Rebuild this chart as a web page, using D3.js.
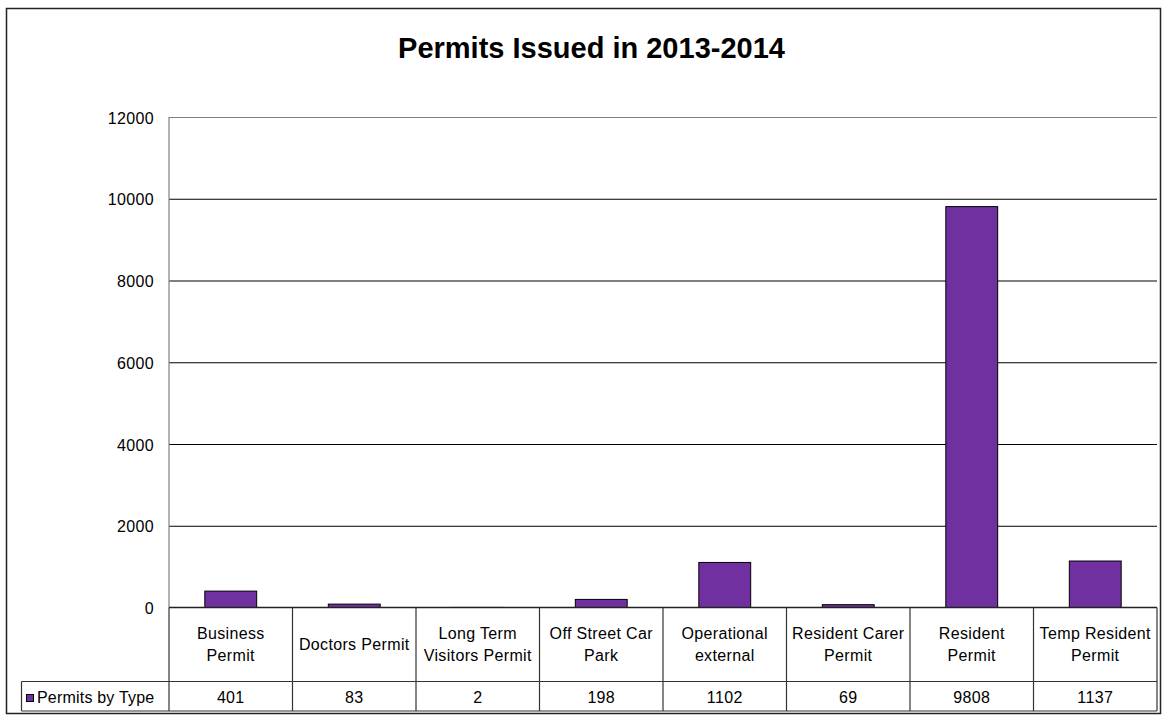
<!DOCTYPE html>
<html>
<head>
<meta charset="utf-8">
<script src="https://cdn.jsdelivr.net/npm/d3@7"></script>
<style>
  html, body { margin: 0; padding: 0; background: #fff; }
  svg text { font-family: "Liberation Sans", Arial, sans-serif; fill: #000; }
</style>
</head>
<body>
<svg id="chart" width="1165" height="720"></svg>
<script>
// ---- data ----
const chartTitle = "Permits Issued in 2013-2014";
const seriesName = "Permits by Type";
const categories = [
  "Business Permit",
  "Doctors Permit",
  "Long Term Visitors Permit",
  "Off Street Car Park",
  "Operational external",
  "Resident Carer Permit",
  "Resident Permit",
  "Temp Resident Permit"
];
// how each category name is broken across lines in the table header
const categoryLines = [
  ["Business", "Permit"],
  ["Doctors Permit"],
  ["Long Term", "Visitors Permit"],
  ["Off Street Car", "Park"],
  ["Operational", "external"],
  ["Resident Carer", "Permit"],
  ["Resident", "Permit"],
  ["Temp Resident", "Permit"]
];
const values = [401, 83, 2, 198, 1102, 69, 9808, 1137];
const yTicks = [0, 2000, 4000, 6000, 8000, 10000, 12000];

// ---- layout ----
const plot = { left: 169, right: 1157, top: 117, bottom: 607.5 };
const tableRow = 681.5, tableBottom = 711, legendLeft = 21.5;
const barColor = "#7030A0";

const svg = d3.select("#chart");

// outer frame
svg.append("rect")
  .attr("x", 6.5).attr("y", 8.5)
  .attr("width", 1154).attr("height", 705)
  .attr("fill", "#fff").attr("stroke", "#222").attr("stroke-width", 1.5);

// title
svg.append("text")
  .attr("x", 591.5).attr("y", 57.7)
  .attr("text-anchor", "middle")
  .style("font-size", "29px").style("font-weight", "bold")
  .text(chartTitle);

// scales
const x = d3.scaleBand().domain(categories).range([plot.left, plot.right]).padding(0);
const y = d3.scaleLinear().domain([0, 12000]).range([plot.bottom, plot.top]);
const bw = x.bandwidth();

// gridlines
const grid = svg.append("g")
  .attr("transform", `translate(${plot.left},0)`)
  .call(d3.axisLeft(y).tickValues(yTicks.filter(d => d > 0))
    .tickSize(-(plot.right - plot.left)).tickFormat(""));
grid.select(".domain").remove();
grid.selectAll(".tick line")
  .attr("stroke", d => d === 12000 ? "#808080" : "#000")
  .attr("stroke-width", 1);

// y tick labels
const yAxis = svg.append("g")
  .attr("transform", `translate(${plot.left},0)`)
  .call(d3.axisLeft(y).tickValues(yTicks).tickSize(0).tickPadding(15).tickFormat(d3.format("d")));
yAxis.select(".domain").remove();
yAxis.selectAll("text")
  .attr("dy", null).attr("y", 6)
  .style("font-size", "16px").style("letter-spacing", "0.35px")
  .style("font-family", "'Liberation Sans', Arial, sans-serif");

// y axis line
svg.append("line")
  .attr("x1", plot.left).attr("x2", plot.left)
  .attr("y1", plot.top).attr("y2", plot.bottom)
  .attr("stroke", "#808080").attr("stroke-width", 1.2);

// bars
svg.append("g").selectAll("rect")
  .data(values)
  .join("rect")
  .attr("x", (d, i) => x(categories[i]) + bw * 0.29)
  .attr("width", bw * 0.42)
  .attr("y", d => y(d))
  .attr("height", d => y(0) - y(d))
  .attr("fill", barColor)
  .attr("stroke", "#000").attr("stroke-width", 1);

// data table grid
const tbl = svg.append("g").attr("stroke", "#333").attr("stroke-width", 1.2);
// category axis line
tbl.append("line").attr("x1", plot.left).attr("x2", plot.right)
  .attr("y1", plot.bottom).attr("y2", plot.bottom).attr("stroke", "#222").attr("stroke-width", 1.5);
tbl.append("line").attr("x1", legendLeft).attr("x2", plot.right)
  .attr("y1", tableRow).attr("y2", tableRow);
tbl.append("line").attr("x1", legendLeft).attr("x2", plot.right)
  .attr("y1", tableBottom).attr("y2", tableBottom);
tbl.append("line").attr("x1", legendLeft).attr("x2", legendLeft)
  .attr("y1", tableRow).attr("y2", tableBottom);
const bounds = categories.map(c => x(c)).concat([plot.right]);
tbl.selectAll("line.col")
  .data(bounds)
  .join("line").attr("class", "col")
  .attr("x1", d => d).attr("x2", d => d)
  .attr("y1", plot.bottom).attr("y2", tableBottom);

// category header cells
const lineH = 22.7, labelMid = 650;
svg.append("g").selectAll("text")
  .data(categories)
  .join("text")
  .attr("text-anchor", "middle")
  .style("font-size", "16px").style("letter-spacing", "0.35px")
  .each(function (c, i) {
    const lines = categoryLines[i];
    d3.select(this).selectAll("tspan")
      .data(lines)
      .join("tspan")
      .attr("x", x(c) + bw / 2)
      .attr("y", (ln, j) => labelMid + (j - (lines.length - 1) / 2) * lineH)
      .text(ln => ln);
  });

// values row
svg.append("g").selectAll("text")
  .data(values)
  .join("text")
  .attr("x", (d, i) => x(categories[i]) + bw / 2)
  .attr("y", 702.7)
  .attr("text-anchor", "middle")
  .style("font-size", "16px").style("letter-spacing", "0.35px")
  .text(d => d);

// legend key
svg.append("rect")
  .attr("x", 26.5).attr("y", 694.5).attr("width", 7).attr("height", 7)
  .attr("fill", barColor).attr("stroke", "#000").attr("stroke-width", 1);
svg.append("text")
  .attr("x", 37).attr("y", 702.7)
  .style("font-size", "16px").style("letter-spacing", "0.2px")
  .text(seriesName);
</script>
</body>
</html>
